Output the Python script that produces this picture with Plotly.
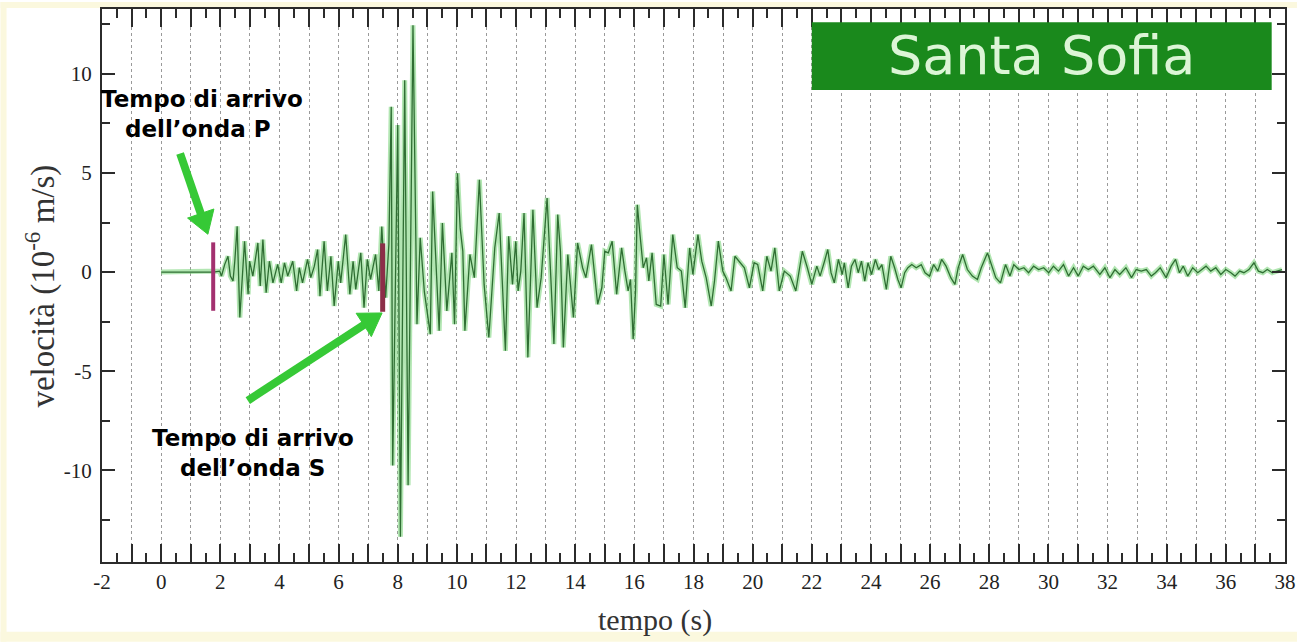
import math
import plotly.graph_objects as go

# ---------------- data ----------------
time_s = [
    0.00, 1.76, 1.98, 2.04, 2.15, 2.26, 2.34, 2.43, 2.49, 2.57, 2.66, 2.75, 2.82, 2.94, 2.99,
    3.10, 3.27, 3.35, 3.44, 3.55, 3.66, 3.78, 3.94, 4.06, 4.17, 4.28, 4.45, 4.58, 4.67, 4.78,
    4.95, 5.06, 5.18, 5.29, 5.37, 5.51, 5.62, 5.74, 5.85, 5.99, 6.07, 6.24, 6.38, 6.49, 6.58,
    6.75, 6.86, 6.97, 7.08, 7.25, 7.36, 7.46, 7.59, 7.70, 7.78, 7.83, 8.00, 8.09, 8.235, 8.35,
    8.515, 8.65, 8.76, 8.90, 9.10, 9.18, 9.27, 9.40, 9.51, 9.66, 9.83, 9.92, 10.02, 10.11, 10.20,
    10.27, 10.44, 10.59, 10.76, 10.92, 11.08, 11.28, 11.43, 11.54, 11.64, 11.75, 11.88, 11.99, 12.07, 12.16,
    12.27, 12.40, 12.57, 12.71, 12.85, 13.05, 13.13, 13.28, 13.41, 13.50, 13.60, 13.75, 13.94, 14.08, 14.25,
    14.36, 14.55, 14.76, 14.90, 15.00, 15.12, 15.25, 15.40, 15.57, 15.68, 15.79, 15.87, 15.96, 16.04, 16.10,
    16.18, 16.30, 16.41, 16.49, 16.60, 16.74, 16.89, 17.00, 17.14, 17.30, 17.45, 17.59, 17.72, 17.87, 17.98,
    18.15, 18.28, 18.43, 18.60, 18.71, 18.84, 18.99, 19.10, 19.27, 19.40, 19.55, 19.72, 19.89, 20.05, 20.17,
    20.34, 20.48, 20.62, 20.75, 20.90, 21.07, 21.27, 21.46, 21.68, 21.85, 22.00, 22.17, 22.28, 22.43, 22.54,
    22.65, 22.76, 22.90, 23.03, 23.10, 23.23, 23.34, 23.46, 23.57, 23.68, 23.79, 23.90, 24.02, 24.15, 24.26,
    24.37, 24.52, 24.67, 24.80, 24.91, 25.02, 25.14, 25.25, 25.38, 25.53, 25.70, 25.83, 25.98, 26.12, 26.26,
    26.39, 26.54, 26.70, 26.84, 26.95, 27.10, 27.26, 27.43, 27.60, 27.73, 27.94, 28.07, 28.22, 28.38, 28.55,
    28.70, 28.83, 29.00, 29.17, 29.33, 29.50, 29.67, 29.84, 30.01, 30.17, 30.34, 30.51, 30.68, 30.85, 31.01,
    31.18, 31.35, 31.52, 31.74, 31.91, 32.08, 32.25, 32.41, 32.62, 32.81, 32.97, 33.14, 33.31, 33.48, 33.62,
    33.78, 33.98, 34.15, 34.30, 34.43, 34.56, 34.71, 34.88, 35.05, 35.19, 35.33, 35.49, 35.66, 35.83, 36.00,
    36.17, 36.31, 36.47, 36.61, 36.78, 36.95, 37.10, 37.25, 37.40, 37.57, 37.73, 37.90,
]
velocity = [
    0.00, 0.00, 0.05, -0.20, 0.39, 0.80, -0.20, -0.45, 0.55, 2.31, -2.29, -0.28, 1.56, -1.12, 0.55,
    -0.20, 1.47, -0.70, 1.64, -1.04, 0.55, -0.54, 0.39, -0.54, 0.47, -0.20, 0.55, -0.95, 0.22, -0.54,
    0.64, -0.28, 0.30, 1.14, -1.21, 1.56, -0.95, 0.80, -1.71, 0.55, -0.54, 1.89, -1.12, 0.55, -0.87,
    0.97, -1.79, 0.64, -0.37, 0.89, -0.95, 2.30, -1.29, 1.40, 8.34, -9.75, 7.42, -13.35, 9.68, -10.75,
    12.45, -2.63, 1.73, -1.00, -3.13, 4.07, 1.06, -2.96, 2.48, -1.96, 0.97, -2.63, 4.99, 2.23, 1.06,
    -2.96, 0.89, -0.28, 4.66, -0.62, -3.30, 1.22, 2.98, -0.62, -3.97, 1.81, -0.62, 1.56, -0.95, 0.05,
    2.98, -4.30, 3.15, -1.79, -0.28, 3.74, 1.06, -3.63, 2.90, 1.06, -3.80, 0.89, -2.29, 1.47, 0.22,
    -0.28, 1.39, -1.62, -0.79, 1.05, 0.97, 1.56, -1.12, 1.22, 0.05, -0.95, -0.37, -3.38, -0.95, 3.40,
    2.06, 0.22, 0.72, -0.45, 0.97, -1.63, -1.71, 0.89, -1.63, 1.89, 0.22, 0.05, -1.80, 1.22, -0.12,
    1.89, 0.55, -0.29, -1.71, -0.45, 1.56, 0.05, -0.29, -0.95, 0.80, 0.55, 0.22, -0.79, 0.47, 0.39,
    -0.95, 0.80, 0.05, 1.22, -0.95, 0.05, -0.20, -0.95, 1.05, 0.22, -0.62, 0.30, -0.20, 0.55, 1.14,
    -0.03, -0.54, 0.64, -0.12, 0.47, -0.79, 0.30, 0.64, -0.03, 0.55, -0.45, 0.47, -0.12, 0.64, 0.13,
    0.38, -0.87, 0.80, 0.22, -0.37, -0.79, -0.03, 0.22, 0.38, 0.22, 0.38, -0.03, -0.20, 0.38, 0.05,
    0.64, 0.30, -0.28, -0.62, 0.22, 0.89, 0.13, -0.20, -0.37, 0.22, 0.97, 0.38, -0.28, -0.54, 0.38,
    -0.20, 0.38, 0.13, 0.22, -0.03, 0.30, 0.13, 0.22, -0.03, 0.30, 0.05, 0.38, -0.20, 0.22, -0.20,
    0.30, 0.13, 0.30, -0.12, 0.22, -0.28, 0.13, -0.12, 0.22, -0.28, 0.13, 0.05, 0.13, -0.20, -0.03,
    0.22, -0.28, 0.30, 0.64, -0.03, 0.30, -0.20, 0.22, -0.03, 0.13, 0.30, 0.05, 0.22, -0.12, 0.13,
    -0.03, -0.20, 0.05, -0.03, 0.13, 0.47, 0.05, -0.03, 0.13, -0.03, 0.05, 0.13,
]

p_arrival = [1.76, 1.76]
p_marker_v = [1.50, -1.95]
s_arrival = [7.49, 7.49]
s_marker_v = [1.45, -2.00]

x_tick_vals = list(range(-2, 39))
x_tick_text = ["-2", "", "0", "", "2", "", "4", "", "6", "", "8", "", "10", "", "12", "", "14", "",
               "16", "", "18", "", "20", "", "22", "", "24", "", "26", "", "28", "", "30", "", "32",
               "", "34", "", "36", "", "38"]
y_tick_vals = [-10, -5, 0, 5, 10]
y_tick_text = ["-10", "-5", "0", "5", "10"]

station_name = "Santa Sofia"
label_p_lines = ["Tempo di arrivo", "dell’onda P"]
label_s_lines = ["Tempo di arrivo", "dell’onda S"]
x_title = "tempo (s)"
y_title = "velocità (10<sup>-6</sup> m/s)"

X_RANGE = [-2, 38]
Y_RANGE = [-14.62, 13.27]
WIDTH, HEIGHT = 1303, 642
MARGIN = dict(l=102, r=12, t=7, b=80, pad=0)

# ---------------- figure ----------------
fig = go.Figure()

fig.add_trace(go.Scatter(x=time_s, y=velocity, mode="lines",
                         line=dict(color="rgba(115,210,115,0.55)", width=5),
                         hoverinfo="skip", showlegend=False))
fig.add_trace(go.Scatter(x=time_s, y=velocity, mode="lines",
                         line=dict(color="#2f6e33", width=1.3),
                         showlegend=False))
fig.add_trace(go.Scatter(x=p_arrival, y=p_marker_v, mode="lines",
                         line=dict(color="#a3306f", width=4), showlegend=False))
fig.add_trace(go.Scatter(x=s_arrival, y=s_marker_v, mode="lines",
                         line=dict(color="#8c2e48", width=5), showlegend=False))

serif = "Liberation Serif, DejaVu Serif, serif"
axis_col = "#2b2b2b"

fig.update_layout(
    width=WIDTH, height=HEIGHT, autosize=False,
    margin=MARGIN,
    paper_bgcolor="white", plot_bgcolor="white",
    showlegend=False,
    xaxis=dict(
        range=X_RANGE, tickmode="array", tickvals=x_tick_vals, ticktext=x_tick_text,
        ticks="inside", ticklen=18, tickwidth=2, tickcolor=axis_col,
        showline=True, linecolor=axis_col, linewidth=2, mirror="ticks",
        showgrid=True, gridcolor="#9a9a9a", griddash="dot", gridwidth=1,
        zeroline=False,
        minor=dict(dtick=0.5, tick0=0, ticks="inside", ticklen=9, tickwidth=1.5,
                   tickcolor=axis_col, showgrid=False),
        tickfont=dict(family=serif, size=21, color="#222"),
        ticklabelstandoff=0,
    ),
    yaxis=dict(
        range=Y_RANGE, tickmode="array", tickvals=y_tick_vals, ticktext=y_tick_text,
        ticks="inside", ticklen=13, tickwidth=2, tickcolor=axis_col,
        showline=True, linecolor=axis_col, linewidth=2, mirror="ticks",
        showgrid=False, zeroline=False,
        minor=dict(dtick=2.5, tick0=0, ticks="inside", ticklen=8, tickwidth=1.5,
                   tickcolor=axis_col, showgrid=False),
        tickfont=dict(family=serif, size=21, color="#222"),
        ticklabelstandoff=4,
    ),
)

# pale border strips of the original picture
pale = "#fbf8de"
for x0, x1, y0, y1 in [(-0.0858, -0.0807, -0.1441, 1.0126),
                       (-0.0858, 1.0101, 1.0018, 1.0126),
                       (-0.0858, 1.0101, -0.1441, -0.1261)]:
    fig.add_shape(type="rect", xref="paper", yref="paper", x0=x0, x1=x1, y0=y0, y1=y1,
                  fillcolor=pale, line_width=0, layer="below")

# station title box
fig.add_shape(type="rect", xref="x", yref="y", x0=22.0, x1=37.55, y0=9.18, y1=12.6,
              fillcolor="#1a891c", line_width=0, layer="above")
fig.add_annotation(x=29.78, y=10.9, xref="x", yref="y", text=station_name, showarrow=False,
                   font=dict(family="DejaVu Sans, Liberation Sans, sans-serif", size=54, color="#dcf5d6"),
                   xanchor="center", yanchor="middle")

# arrival labels (one annotation per line)
bold = "DejaVu Sans, Liberation Sans, sans-serif"
label_pos = [(1.37, 8.74, label_p_lines[0]), (1.25, 7.24, label_p_lines[1]),
             (3.10, -8.39, label_s_lines[0]), (3.10, -9.90, label_s_lines[1])]
for lx, ly, txt in label_pos:
    fig.add_annotation(x=lx, y=ly, xref="x", yref="y", text="<b>" + txt + "</b>", showarrow=False,
                       font=dict(family=bold, size=23, color="black"),
                       xanchor="center", yanchor="middle")

# green arrows drawn as shapes (shaft + triangular head), head built in pixel space
plot_w = WIDTH - MARGIN["l"] - MARGIN["r"]
plot_h = HEIGHT - MARGIN["t"] - MARGIN["b"]
kx = plot_w / (X_RANGE[1] - X_RANGE[0])
ky = plot_h / (Y_RANGE[1] - Y_RANGE[0])
arrow_col = "#36c936"


def add_arrow(tail, tip, head_len=22, head_half=14, shaft=8):
    tx, ty = tail[0] * kx, tail[1] * ky
    hx, hy = tip[0] * kx, tip[1] * ky
    dx, dy = hx - tx, hy - ty
    d = math.hypot(dx, dy)
    ux, uy = dx / d, dy / d
    nx, ny = -uy, ux
    bx, by = hx - ux * head_len, hy - uy * head_len
    pts = [(hx, hy), (bx + nx * head_half, by + ny * head_half), (bx - nx * head_half, by - ny * head_half)]
    path = "M " + " L ".join(f"{px / kx:.4f},{py / ky:.4f}" for px, py in pts) + " Z"
    fig.add_shape(type="line", xref="x", yref="y", x0=tail[0], y0=tail[1],
                  x1=(bx + ux * 2) / kx, y1=(by + uy * 2) / ky,
                  line=dict(color=arrow_col, width=shaft), layer="above")
    fig.add_shape(type="path", xref="x", yref="y", path=path,
                  fillcolor=arrow_col, line=dict(color=arrow_col, width=1), layer="above")


add_arrow((0.64, 5.98), (1.58, 1.91))
add_arrow((2.93, -6.48), (7.47, -2.06))

# axis titles (placed as in the reference, slightly left of the plot centre)
fig.add_annotation(x=0.4676, y=-0.1045, xref="paper", yref="paper", text=x_title, showarrow=False,
                   font=dict(family=serif, size=30, color="#333"), xanchor="center", yanchor="middle")
fig.add_annotation(x=-0.052, y=0.499, xref="paper", yref="paper", text=y_title, showarrow=False,
                   textangle=-90, font=dict(family=serif, size=33, color="#333"),
                   xanchor="center", yanchor="middle")

fig.write_html("out.html", config={"displayModeBar": False},
               post_script="document.body.style.margin='0';")
